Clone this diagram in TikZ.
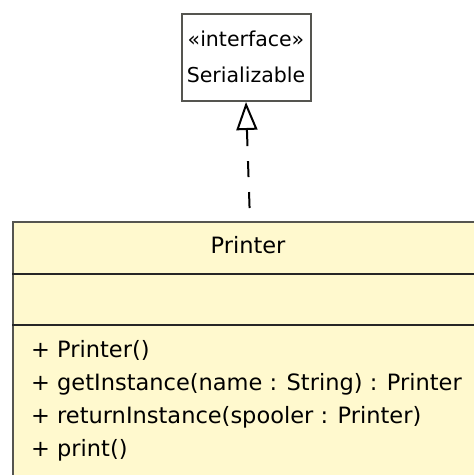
\documentclass[tikz,border=0pt]{standalone}
\usepackage{fontspec}
\setmainfont{DejaVu Sans}
\usepackage{tikz}
\usetikzlibrary{arrows.meta}

\definecolor{fondclasse}{RGB}{255,249,206}
\definecolor{bordclasse}{RGB}{85,85,80}

\tikzset{
	boite/.style={draw=bordclasse,line width=2pt,inner sep=0pt},
	texte/.style={font=\fontsize{22.5}{26}\selectfont,inner sep=0pt},
	petit/.style={font=\fontsize{20.5}{24}\selectfont,inner sep=0pt}
}

\begin{document}
\begin{tikzpicture}[x=1pt,y=-1pt]
	\def\gauche{12};
	\def\haut{221};
	\def\milieu{248};
	\def\marge{31};
\useasboundingbox (0,0) rectangle (474,475);
\clip (0,0) rectangle (474,475);

%Interface
\node[boite,fill=white,minimum width=129,minimum height=87,anchor=north] (serial) at (246,13) {};
\node[petit,anchor=base] (stereo) at (246,46) {«interface»};
\node[petit,anchor=base] (serialnom) at (246,82) {Serializable};

%Classe
\node[boite,fill=fondclasse,minimum width=474,minimum height=280,anchor=north west] (printer) at (\gauche,\haut) {};
\coordinate (sepA) at (\gauche,274);
\coordinate (sepB) at (\gauche,325);
\draw[line width=2pt,black!85] (sepA) -- ++(480,0);
\draw[line width=2pt,black!85] (sepB) -- ++(480,0);
\node[texte,anchor=base] (nom) at (\milieu,253) {Printer};

%Operations
\node[texte,anchor=base west] (opA) at (\marge,357) {+ Printer()};
\node[texte,anchor=base west] (opB) at (\marge,390) {+ getInstance(name : String) : Printer};
\node[texte,anchor=base west] (opC) at (\marge,423) {+ returnInstance(spooler : Printer)};
\node[texte,anchor=base west] (opD) at (\marge,456) {+ print()};

%Realisation
\draw [line width=2pt,dash pattern=on 16pt off 15pt,dash phase=18pt,
	-{Triangle[open,length=28pt,width=21pt,line width=2pt]}] (printer.north) -- (serial.south);

\end{tikzpicture}
\end{document}
